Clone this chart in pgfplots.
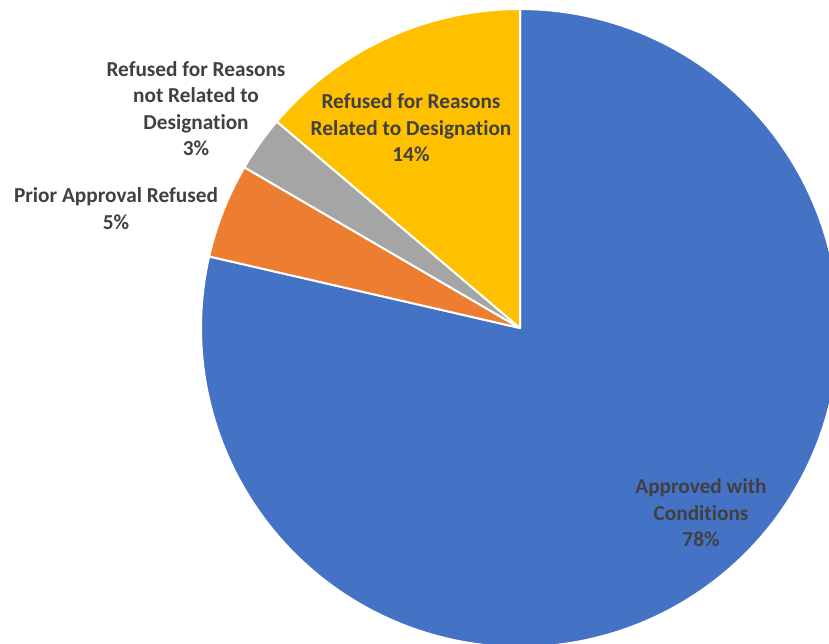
\documentclass[border=0pt]{standalone}
\usepackage{pgfplots}
\pgfplotsset{compat=1.18}
\usepackage{pgfplotstable}
\usepackage{fontspec}
\setmainfont{Carlito}[Ligatures={NoCommon}]
\definecolor{cblue}{HTML}{4472C4}
\definecolor{corange}{HTML}{ED7D31}
\definecolor{cgray}{HTML}{A5A5A5}
\definecolor{cyellow}{HTML}{FFC000}
\definecolor{ctext}{HTML}{404040}
\pgfplotstableread{
label value
Approved 78.6
Prior 4.8
NotRelated 2.8
Related 13.8
}\piedata
\begin{document}
\begin{tikzpicture}
\pgfplotstablegetelem{0}{value}\of\piedata \let\vA\pgfplotsretval
\pgfplotstablegetelem{1}{value}\of\piedata \let\vB\pgfplotsretval
\pgfplotstablegetelem{2}{value}\of\piedata \let\vC\pgfplotsretval
\pgfplotstablegetelem{3}{value}\of\piedata \let\vD\pgfplotsretval
\pgfmathsetmacro\aA{90}
\pgfmathsetmacro\aB{\aA-3.6*\vA}
\pgfmathsetmacro\aC{\aB-3.6*\vB}
\pgfmathsetmacro\aD{\aC-3.6*\vC}
\pgfmathsetmacro\aE{\aD-3.6*\vD}
\useasboundingbox (0,0) rectangle (829pt,644pt);
\begin{axis}[
  at={(0,0)}, anchor=south west,
  scale only axis, width=829pt, height=644pt,
  xmin=-520, xmax=309, ymin=-316, ymax=328,
  hide axis, clip=true,
]
\addplot[fill=cblue, draw=white, line width=2pt, line join=round, domain=\aB:\aA, samples=200, variable=\t]
  ({319*cos(\t)},{319*sin(\t)}) -- (axis cs:0,0) -- cycle;
\addplot[fill=corange, draw=white, line width=2pt, line join=round, domain=\aC:\aB, samples=30, variable=\t]
  ({319*cos(\t)},{319*sin(\t)}) -- (axis cs:0,0) -- cycle;
\addplot[fill=cgray, draw=white, line width=2pt, line join=round, domain=\aD:\aC, samples=20, variable=\t]
  ({319*cos(\t)},{319*sin(\t)}) -- (axis cs:0,0) -- cycle;
\addplot[fill=cyellow, draw=white, line width=2pt, line join=round, domain=\aE:\aD, samples=60, variable=\t]
  ({319*cos(\t)},{319*sin(\t)}) -- (axis cs:0,0) -- cycle;
\tikzset{lbl/.style={align=center, text=ctext, font=\fontsize{21.3}{26.5}\selectfont\bfseries, inner sep=0pt}}
\node[lbl] at (axis cs:-324,219.5) {Refused for Reasons\\not Related to\\Designation\\3\%};
\node[lbl] at (axis cs:-404,119.5) {Prior Approval Refused\\5\%};
\node[lbl] at (axis cs:-109,200) {Refused for Reasons\\Related to Designation\\14\%};
\node[lbl] at (axis cs:181,-185) {Approved with\\Conditions\\78\%};
\end{axis}
\end{tikzpicture}
\end{document}
